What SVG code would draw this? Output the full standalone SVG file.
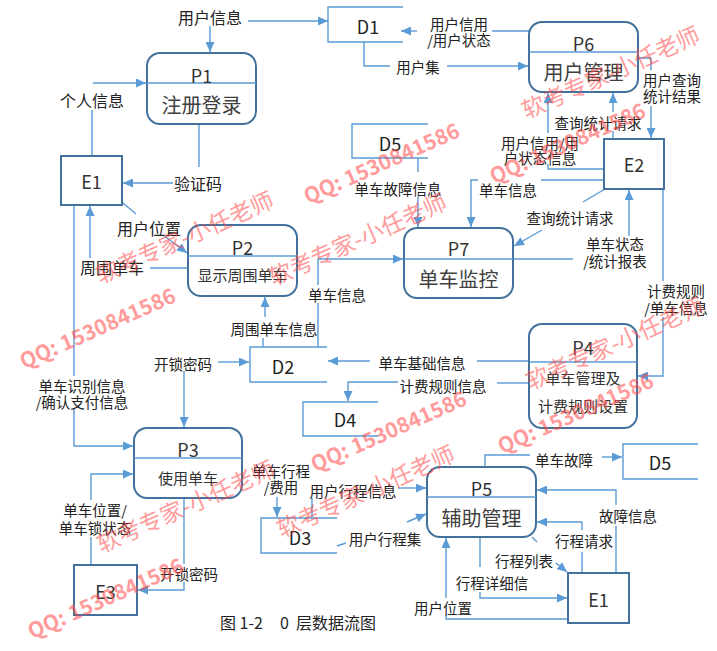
<svg xmlns="http://www.w3.org/2000/svg" width="717" height="651" viewBox="0 0 717 651">
<defs>
<marker id="arr" markerUnits="userSpaceOnUse" markerWidth="11" markerHeight="9" refX="10" refY="4.5" orient="auto">
<path d="M0,0 L10,4.5 L0,9 z" fill="#5B9BD5"/>
</marker>
<style>
text{font-family:"Noto Sans CJK SC","Noto Sans",sans-serif;fill:#222;text-anchor:middle;dominant-baseline:central}
.proc rect{fill:#fff;stroke:#41719C;stroke-width:2}
.proc line{stroke:#5B9BD5;stroke-width:1.4}
.pid{font-size:18px;fill:#333}
.pt{font-size:20px;fill:#404040}
.ps{font-size:15px;fill:#333}
.ent rect{fill:#fff;stroke:#41719C;stroke-width:2}
.ent text{font-size:18px;fill:#333}
.store path{fill:none;stroke:#5B9BD5;stroke-width:1.4}
.store text{font-size:18px;fill:#222}
#conn path{fill:none;stroke:#5B9BD5;stroke-width:1.4}
.lb{font-size:14.5px}
.lbL{font-size:16px}
.wm text{fill:#FF4A4A;opacity:0.55}
.wq{font-size:21px;font-weight:bold}
.wc{font-size:23px}
</style>
</defs>
<rect width="717" height="651" fill="#fff"/>

<g id="connectors">
<g id="conn">
<path d="M248,21 H328" marker-end="url(#arr)"/>
<path d="M210,26 V52" marker-end="url(#arr)"/>
<path d="M529,31 H492"/>
<path d="M417,31 H401" marker-end="url(#arr)"/>
<path d="M364,42 V66 H390"/>
<path d="M447,66 H528" marker-end="url(#arr)"/>
<path d="M638,58 H651 V70"/>
<path d="M651,106 V138" marker-end="url(#arr)"/>
<path d="M613,139 V131"/>
<path d="M613,112 V93" marker-end="url(#arr)"/>
<path d="M604,169 H548 V164"/>
<path d="M548,133 V93" marker-end="url(#arr)"/>
<path d="M604,180 H541"/>
<path d="M478,180 H471 V227" marker-end="url(#arr)"/>
<path d="M418,158 V172"/>
<path d="M418,197 V227" marker-end="url(#arr)"/>
<path d="M318,347 V303"/>
<path d="M318,285 V259 H403" marker-end="url(#arr)"/>
<path d="M605,189 L583,202"/>
<path d="M542,230 L514,246" marker-end="url(#arr)"/>
<path d="M513,259 H573"/>
<path d="M629,236 V190" marker-end="url(#arr)"/>
<path d="M663,189 V281"/>
<path d="M663,317 V376 H638" marker-end="url(#arr)"/>
<path d="M529,361 H477"/>
<path d="M370,361 H328" marker-end="url(#arr)"/>
<path d="M529,383 H497"/>
<path d="M398,382 H348 V401" marker-end="url(#arr)"/>
<path d="M263,347 V338"/>
<path d="M265,317 V297" marker-end="url(#arr)"/>
<path d="M218,362 H249" marker-end="url(#arr)"/>
<path d="M184,371 V427" marker-end="url(#arr)"/>
<path d="M123,203 L136,214"/>
<path d="M163,235 L187,253" marker-end="url(#arr)"/>
<path d="M188,268 H150"/>
<path d="M90,258 V206" marker-end="url(#arr)"/>
<path d="M92,156 V110"/>
<path d="M93,83 H146" marker-end="url(#arr)"/>
<path d="M199,124 V167"/>
<path d="M173,183 H123" marker-end="url(#arr)"/>
<path d="M74,205 V376"/>
<path d="M74,409 V446 H133" marker-end="url(#arr)"/>
<path d="M91,565 V537"/>
<path d="M91,500 V474 H133" marker-end="url(#arr)"/>
<path d="M184,498 V564"/>
<path d="M184,582 V590 H138" marker-end="url(#arr)"/>
<path d="M277,497 V517" marker-end="url(#arr)"/>
<path d="M312,518 V498"/>
<path d="M398,488 H426" marker-end="url(#arr)"/>
<path d="M337,546 L346,543"/>
<path d="M407,522 L426,514" marker-end="url(#arr)"/>
<path d="M485,467 V455 H530"/>
<path d="M602,457 H622" marker-end="url(#arr)"/>
<path d="M616,573 V526"/>
<path d="M616,505 V490 H537" marker-end="url(#arr)"/>
<path d="M582,573 V552"/>
<path d="M582,530 V522 H537" marker-end="url(#arr)"/>
<path d="M532,537 L537,542"/>
<path d="M556,563 L567,572" marker-end="url(#arr)"/>
<path d="M480,537 V567"/>
<path d="M480,592 V598 H567" marker-end="url(#arr)"/>
<path d="M568,619 H446 V615"/>
<path d="M446,598 V538" marker-end="url(#arr)"/>
</g>
<g id="labels">
<text class="lbL" x="210" y="17">用户信息</text>
<text class="lb" x="459" y="23">用户信用<tspan x="459" dy="16">/用户状态</tspan></text>
<text class="lb" x="418" y="66">用户集</text>
<text class="lb" x="672" y="79">用户查询<tspan x="672" dy="16">统计结果</tspan></text>
<text class="lb" x="598" y="122">查询统计请求</text>
<text class="lb" x="540" y="142">用户信用/用<tspan x="540" dy="15">户状态信息</tspan></text>
<text class="lb" x="508" y="189">单车信息</text>
<text class="lb" x="398" y="188">单车故障信息</text>
<text class="lb" x="337" y="294">单车信息</text>
<text class="lb" x="570" y="217">查询统计请求</text>
<text class="lb" x="615" y="243">单车状态<tspan x="615" dy="17">/统计报表</tspan></text>
<text class="lb" x="676" y="290">计费规则<tspan x="676" dy="17">/单车信息</tspan></text>
<text class="lb" x="422" y="362">单车基础信息</text>
<text class="lb" x="443" y="385">计费规则信息</text>
<text class="lb" x="274" y="328">周围单车信息</text>
<text class="lb" x="183" y="363">开锁密码</text>
<text class="lbL" x="149" y="228">用户位置</text>
<text class="lbL" x="112" y="267">周围单车</text>
<text class="lbL" x="92" y="100">个人信息</text>
<text class="lbL" x="198" y="183">验证码</text>
<text class="lb" x="82" y="385">单车识别信息<tspan x="82" dy="16">/确认支付信息</tspan></text>
<text class="lb" x="95" y="509">单车位置/<tspan x="95" dy="18">单车锁状态</tspan></text>
<text class="lb" x="189" y="573">开锁密码</text>
<text class="lb" x="281" y="470">单车行程<tspan x="281" dy="16">/费用</tspan></text>
<text class="lb" x="353" y="490">用户行程信息</text>
<text class="lb" x="385" y="538">用户行程集</text>
<text class="lb" x="564" y="459">单车故障</text>
<text class="lb" x="628" y="515">故障信息</text>
<text class="lb" x="584" y="540">行程请求</text>
<text class="lb" x="524" y="560">行程列表</text>
<text class="lb" x="492" y="582">行程详细信</text>
<text class="lb" x="443" y="607">用户位置</text>
</g>
</g>

<g id="P1" class="proc"><rect x="147" y="53" width="109" height="71" rx="13"/><line x1="147" y1="83" x2="256" y2="83"/><text class="pid" x="201.5" y="75">P1</text><text class="pt" x="201.5" y="104">注册登录</text></g>
<g id="P6" class="proc"><rect x="529" y="22" width="109" height="70" rx="13"/><line x1="529" y1="52" x2="638" y2="52"/><text class="pid" x="583.5" y="43">P6</text><text class="pt" x="583.5" y="71">用户管理</text></g>
<g id="P2" class="proc"><rect x="188" y="225" width="109" height="71" rx="13"/><line x1="188" y1="256" x2="297" y2="256"/><text class="pid" x="242.5" y="247">P2</text><text class="ps" x="242.5" y="274">显示周围单车</text></g>
<g id="P7" class="proc"><rect x="404" y="228" width="109" height="70" rx="13"/><line x1="404" y1="259" x2="513" y2="259"/><text class="pid" x="458.5" y="248">P7</text><text class="pt" x="458.5" y="278">单车监控</text></g>
<g id="P4" class="proc"><rect x="529" y="324" width="108" height="104" rx="13"/><line x1="529" y1="362" x2="637" y2="362"/><text class="pid" x="583" y="347">P4</text><text class="ps" x="583" y="377">单车管理及</text><text class="ps" x="583" y="405">计费规则设置</text></g>
<g id="P3" class="proc"><rect x="134" y="428" width="108" height="70" rx="13"/><line x1="134" y1="458" x2="242" y2="458"/><text class="pid" x="188" y="449">P3</text><text class="ps" x="188" y="477">使用单车</text></g>
<g id="P5" class="proc"><rect x="427" y="467" width="109" height="70" rx="13"/><line x1="427" y1="497" x2="536" y2="497"/><text class="pid" x="481.5" y="488">P5</text><text class="pt" x="481.5" y="517">辅助管理</text></g>

<g id="E1" class="ent"><rect x="61" y="156" width="61" height="49"/><text x="91.5" y="181">E1</text></g>
<g id="E2" class="ent"><rect x="604" y="139" width="60" height="50"/><text x="634" y="164">E2</text></g>
<g id="E3" class="ent"><rect x="74" y="565" width="63" height="50"/><text x="105.5" y="591">E3</text></g>
<g id="E1b" class="ent"><rect x="568" y="573" width="61" height="50"/><text x="598.5" y="599">E1</text></g>

<g id="D1" class="store"><path d="M403,7 H328 V42 H403"/><text x="368" y="26">D1</text></g>
<g id="D5" class="store"><path d="M428,124 H352 V158 H428"/><text x="390" y="143">D5</text></g>
<g id="D2" class="store"><path d="M327,347 H250 V382 H327"/><text x="283" y="366">D2</text></g>
<g id="D4" class="store"><path d="M378,402 H303 V436 H378"/><text x="345" y="419">D4</text></g>
<g id="D3" class="store"><path d="M337,518 H261 V553 H337"/><text x="300" y="537">D3</text></g>
<g id="D5b" class="store"><path d="M698,444 H623 V479 H698"/><text x="660" y="462">D5</text></g>

<text x="220" y="622" style="font-size:16px;text-anchor:start">图 1-2</text>
<text x="280" y="622" style="font-size:16px;text-anchor:start">0</text>
<text x="296" y="622" style="font-size:16px;text-anchor:start">层数据流图</text>

<g class="wm">
<text class="wc" transform="translate(610,71) rotate(-24)">软考专家-小任老师</text>
<text class="wq" transform="translate(381,162) rotate(-24)">QQ: 1530841586</text>
<text class="wq" transform="translate(567,142) rotate(-24)">QQ: 1530841586</text>
<text class="wc" transform="translate(184,236) rotate(-24)">软考专家-小任老师</text>
<text class="wc" transform="translate(357,238) rotate(-24)">软考专家-小任老师</text>
<text class="wq" transform="translate(97,327) rotate(-24)">QQ: 1530841586</text>
<text class="wq" transform="translate(388,430) rotate(-24)">QQ: 1530841586</text>
<text class="wc" transform="translate(614,342) rotate(-24)">软考专家-小任老师</text>
<text class="wq" transform="translate(575,412) rotate(-24)">QQ: 1530841586</text>
<text class="wc" transform="translate(365,490) rotate(-24)">软考专家-小任老师</text>
<text class="wc" transform="translate(185,505) rotate(-24)">软考专家-小任老师</text>
<text class="wq" transform="translate(105,597) rotate(-24)">QQ: 1530841586</text>
</g>
</svg>
